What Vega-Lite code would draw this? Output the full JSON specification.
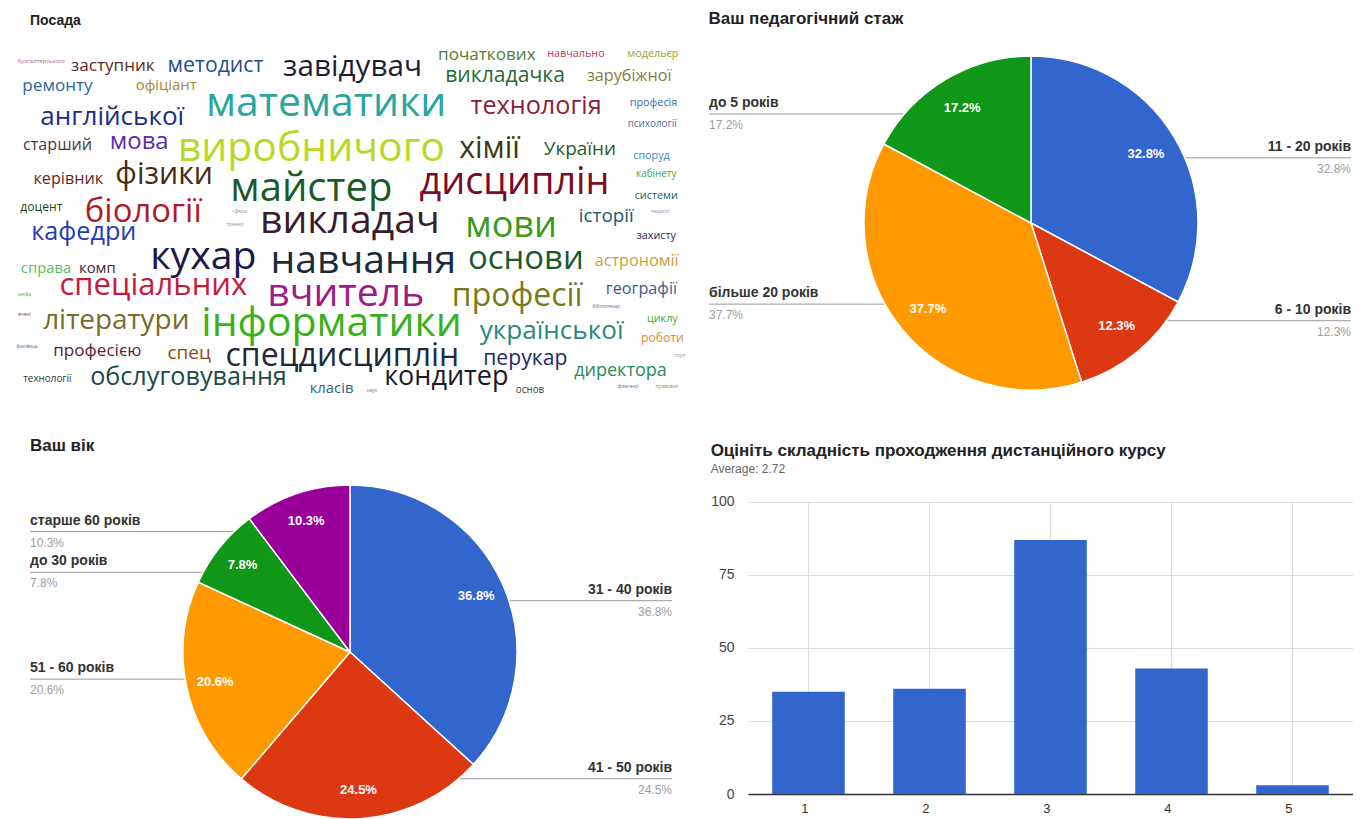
{
  "$schema": "https://vega.github.io/schema/vega-lite/v6.json",
  "background": "white",
  "padding": {"left": 15, "top": 10, "right": 0, "bottom": 0},
  "config": {"view": {"stroke": null}, "font": "Liberation Sans",
    "title": {"anchor": "start", "fontSize": 17, "fontWeight": "bold", "color": "#222", "font": "Liberation Sans"}},
  "resolve": {"scale": {"color": "independent", "size": "independent", "theta": "independent", "x": "independent", "y": "independent"}},
  "spacing": 35,
  "vconcat": [
    {
      "spacing": 18,
      "resolve": {"scale": {"color": "independent", "size": "independent", "theta": "independent", "x": "independent", "y": "independent"}},
      "hconcat": [
        {
          "width": 675, "height": 358,
          "title": {"text": "Посада", "dx": 15, "fontSize": 14, "offset": 16},
          "data": {"values": [
            {"word": "бухгалтерського", "col": 3.9, "row": 4.7, "weight": 1.3},
            {"word": "заступник", "col": 14.5, "row": 6.1, "weight": 3.8},
            {"word": "методист", "col": 29.7, "row": 6.1, "weight": 4.7},
            {"word": "завідувач", "col": 50.0, "row": 6.4, "weight": 6.6},
            {"word": "початкових", "col": 69.9, "row": 3.1, "weight": 3.8},
            {"word": "навчально", "col": 83.1, "row": 2.8, "weight": 2.4},
            {"word": "модельєр", "col": 94.5, "row": 2.8, "weight": 2.4},
            {"word": "викладачка", "col": 72.6, "row": 8.9, "weight": 4.7},
            {"word": "зарубіжної", "col": 91.0, "row": 8.9, "weight": 3.6},
            {"word": "ремонту", "col": 6.3, "row": 11.7, "weight": 3.8},
            {"word": "офіціант", "col": 22.4, "row": 11.7, "weight": 3.3},
            {"word": "математики", "col": 46.1, "row": 16.8, "weight": 9.1},
            {"word": "технологія", "col": 77.2, "row": 17.3, "weight": 5.6},
            {"word": "професія", "col": 94.6, "row": 16.5, "weight": 2.4},
            {"word": "психології", "col": 94.4, "row": 22.3, "weight": 2.2},
            {"word": "англійської", "col": 14.4, "row": 20.4, "weight": 5.8},
            {"word": "старший", "col": 6.3, "row": 28.2, "weight": 3.6},
            {"word": "мова", "col": 18.4, "row": 27.4, "weight": 5.3},
            {"word": "виробничого", "col": 43.9, "row": 29.3, "weight": 9.1},
            {"word": "хімії", "col": 70.3, "row": 29.3, "weight": 6.7},
            {"word": "України", "col": 83.7, "row": 29.3, "weight": 4.2},
            {"word": "споруд", "col": 94.3, "row": 31.3, "weight": 2.4},
            {"word": "кабінету", "col": 95.0, "row": 36.3, "weight": 2.2},
            {"word": "системи", "col": 95.0, "row": 42.5, "weight": 2.4},
            {"word": "керівник", "col": 7.9, "row": 37.7, "weight": 3.6},
            {"word": "фізики", "col": 22.1, "row": 36.6, "weight": 6.7},
            {"word": "майстер", "col": 43.9, "row": 40.5, "weight": 8.9},
            {"word": "дисциплін", "col": 74.0, "row": 38.8, "weight": 8.4},
            {"word": "доцент", "col": 3.9, "row": 45.5, "weight": 2.7},
            {"word": "біології", "col": 19.0, "row": 46.9, "weight": 7.3},
            {"word": "викладач", "col": 49.6, "row": 49.4, "weight": 8.7},
            {"word": "мови", "col": 73.5, "row": 50.8, "weight": 8.0},
            {"word": "історії", "col": 87.6, "row": 48.0, "weight": 4.2},
            {"word": "захисту", "col": 95.0, "row": 53.6, "weight": 2.4},
            {"word": "кафедри", "col": 10.2, "row": 52.5, "weight": 5.6},
            {"word": "справа", "col": 4.6, "row": 62.8, "weight": 3.3},
            {"word": "комп", "col": 12.2, "row": 62.8, "weight": 3.3},
            {"word": "кухар", "col": 27.9, "row": 59.5, "weight": 8.7},
            {"word": "навчання", "col": 51.6, "row": 60.6, "weight": 8.7},
            {"word": "основи", "col": 75.7, "row": 60.1, "weight": 7.3},
            {"word": "астрономії", "col": 92.1, "row": 60.6, "weight": 3.6},
            {"word": "спеціальних", "col": 20.5, "row": 67.6, "weight": 6.9},
            {"word": "вчитель", "col": 49.0, "row": 69.8, "weight": 8.7},
            {"word": "професії", "col": 74.4, "row": 70.4, "weight": 7.1},
            {"word": "географії", "col": 92.8, "row": 68.4, "weight": 3.6},
            {"word": "літератури", "col": 15.0, "row": 77.4, "weight": 6.2},
            {"word": "інформатики", "col": 46.9, "row": 78.2, "weight": 9.1},
            {"word": "української", "col": 79.5, "row": 80.2, "weight": 5.8},
            {"word": "циклу", "col": 95.9, "row": 76.8, "weight": 2.4},
            {"word": "роботи", "col": 95.9, "row": 82.1, "weight": 2.7},
            {"word": "професією", "col": 12.2, "row": 85.8, "weight": 3.8},
            {"word": "спец", "col": 25.8, "row": 86.3, "weight": 4.2},
            {"word": "спецдисциплін", "col": 48.5, "row": 87.2, "weight": 7.1},
            {"word": "перукар", "col": 75.6, "row": 88.0, "weight": 4.7},
            {"word": "директора", "col": 89.7, "row": 91.3, "weight": 4.0},
            {"word": "технології", "col": 4.8, "row": 93.6, "weight": 2.2},
            {"word": "обслуговування", "col": 25.7, "row": 93.0, "weight": 5.6},
            {"word": "кондитер", "col": 63.9, "row": 93.0, "weight": 6.0},
            {"word": "класів", "col": 46.9, "row": 96.4, "weight": 3.3},
            {"word": "основ", "col": 76.3, "row": 96.6, "weight": 2.2},
            {"word": "сфери", "col": 33.3, "row": 46.9, "weight": 1.1},
            {"word": "шефа", "col": 1.4, "row": 70.1, "weight": 1.1},
            {"word": "вчені", "col": 1.4, "row": 75.7, "weight": 1.1},
            {"word": "фахівець", "col": 1.8, "row": 84.6, "weight": 1.1},
            {"word": "бібліотекар", "col": 87.6, "row": 73.5, "weight": 1.1},
            {"word": "педагог", "col": 95.6, "row": 46.9, "weight": 1.1},
            {"word": "наук", "col": 52.9, "row": 96.9, "weight": 1.1},
            {"word": "фізичної", "col": 90.8, "row": 95.8, "weight": 1.1},
            {"word": "правових", "col": 96.6, "row": 95.8, "weight": 1.1},
            {"word": "груп", "col": 98.5, "row": 87.2, "weight": 1.1},
            {"word": "тренер", "col": 32.6, "row": 50.6, "weight": 1.1}
          ]},
          "mark": {"type": "text", "font": "Open Sans", "align": "center", "baseline": "middle", "clip": false},
          "encoding": {
            "x": {"field": "col", "type": "quantitative", "scale": {"domain": [0, 100], "nice": false, "zero": false}, "axis": null},
            "y": {"field": "row", "type": "quantitative", "scale": {"domain": [0, 100], "nice": false, "zero": false, "reverse": true}, "axis": null},
            "text": {"field": "word"},
            "size": {"field": "weight", "type": "quantitative", "scale": {"domain": [0, 10], "range": [0, 45]}, "legend": null},
            "color": {"field": "word", "type": "nominal", "legend": null, "scale": {
              "domain": ["бухгалтерського","заступник","методист","завідувач","початкових","навчально","модельєр","викладачка","зарубіжної","ремонту","офіціант","математики","технологія","професія","психології","англійської","старший","мова","виробничого","хімії","України","споруд","кабінету","системи","керівник","фізики","майстер","дисциплін","доцент","біології","викладач","мови","історії","захисту","кафедри","справа","комп","кухар","навчання","основи","астрономії","спеціальних","вчитель","професії","географії","літератури","інформатики","української","циклу","роботи","професією","спец","спецдисциплін","перукар","директора","технології","обслуговування","кондитер","класів","основ","сфери","шефа","вчені","фахівець","бібліотекар","педагог","наук","фізичної","правових","груп","тренер"],
              "range": ["#b05a8a","#5c2a1e","#23508a","#1e1e32","#5a7a3a","#c0306a","#a0a030","#2a6a30","#8a7a3a","#2a6a9a","#a88a30","#2aa5a0","#8a1e3c","#3a6ab0","#4a6a9a","#1e2e7a","#4a3a3c","#5a2ab0","#b8d828","#3a3a14","#2a5a30","#3a8ac0","#3aaa3a","#2a5a5a","#5a2a1e","#4a2a10","#1a5a28","#7a0a28","#1a4a1a","#b01a28","#3c1a2e","#3a9a1a","#1a5a6a","#1a1a5a","#2a3ab0","#5ac05a","#3a2a3a","#1a1a4a","#1a2a3a","#1a5a28","#c8a040","#c81a3c","#a01a8a","#7a7a1a","#3a5a8a","#7a6a28","#3ab01a","#2a8a7a","#3aaa3a","#e08a2a","#5a1a3a","#8a4a10","#1e2a3a","#1a2a6a","#2a8a5a","#2a3a3a","#1a4a4a","#1a1a2a","#2a6a7a","#3a3a3a","#8a8aaa","#5ab03a","#8a3a4a","#6a6a8a","#6a6a9a","#9a8aba","#6a7a8a","#4a6aaa","#9a9a3a","#8a9aaa","#9a9a9a"]
            }}
          }
        },
        {
          "width": 644, "height": 358,
          "title": {"text": "Ваш педагогічний стаж", "dx": 0, "offset": 16},
          "data": {"values": [
            {"label": "11 - 20 років", "count": 67, "order": 1},
            {"label": "6 - 10 років", "count": 25, "order": 2},
            {"label": "більше 20 років", "count": 77, "order": 3},
            {"label": "до 5 років", "count": 35, "order": 4}
          ]},
          "transform": [
            {"joinaggregate": [{"op": "sum", "field": "count", "as": "total"}]},
            {"window": [{"op": "sum", "field": "count", "as": "cum"}], "sort": [{"field": "order"}], "frame": [null, 0]},
            {"calculate": "datum.count / datum.total", "as": "pct"},
            {"calculate": "(datum.cum - datum.count / 2) / datum.total * 2 * PI", "as": "mid"},
            {"calculate": "127 * sin(datum.mid)", "as": "lx"},
            {"calculate": "127 * cos(datum.mid)", "as": "ly"},
            {"calculate": "datum.lx >= 0 ? 320 : -322", "as": "edge"}
          ],
          "layer": [
            {
              "mark": {"type": "rule", "color": "#9a9a9a", "strokeWidth": 1},
              "encoding": {
                "x": {"field": "lx", "type": "quantitative", "scale": {"domain": [-322, 322], "nice": false, "zero": false}, "axis": null},
                "x2": {"field": "edge"},
                "y": {"field": "ly", "type": "quantitative", "scale": {"domain": [-179, 179], "nice": false, "zero": false}, "axis": null}
              }
            },
            {
              "mark": {"type": "arc", "outerRadius": 167, "stroke": "white", "strokeWidth": 1.5},
              "encoding": {
                "theta": {"field": "count", "type": "quantitative", "stack": true},
                "order": {"field": "order", "type": "quantitative"},
                "color": {"field": "label", "type": "nominal", "legend": null, "scale": {"domain": ["11 - 20 років", "6 - 10 років", "більше 20 років", "до 5 років"], "range": ["#3366cc", "#dc3912", "#ff9900", "#109618"]}}
              }
            },
            {
              "mark": {"type": "text", "radius": 134, "fill": "white", "fontSize": 13, "fontWeight": "bold", "font": "Liberation Sans"},
              "encoding": {
                "theta": {"field": "count", "type": "quantitative", "stack": true},
                "order": {"field": "order", "type": "quantitative"},
                "text": {"field": "pct", "type": "quantitative", "format": ".1%"}
              }
            },
            {
              "transform": [{"filter": "datum.lx >= 0"}],
              "mark": {"type": "text", "align": "right", "baseline": "bottom", "dy": -4, "fontSize": 14, "fontWeight": "bold", "color": "#333"},
              "encoding": {
                "x": {"field": "edge", "type": "quantitative", "scale": {"domain": [-322, 322], "nice": false, "zero": false}, "axis": null},
                "y": {"field": "ly", "type": "quantitative", "scale": {"domain": [-179, 179], "nice": false, "zero": false}, "axis": null},
                "text": {"field": "label"}
              }
            },
            {
              "transform": [{"filter": "datum.lx >= 0"}],
              "mark": {"type": "text", "align": "right", "baseline": "top", "dy": 6, "fontSize": 12, "color": "#9e9e9e"},
              "encoding": {
                "x": {"field": "edge", "type": "quantitative", "scale": {"domain": [-322, 322], "nice": false, "zero": false}, "axis": null},
                "y": {"field": "ly", "type": "quantitative", "scale": {"domain": [-179, 179], "nice": false, "zero": false}, "axis": null},
                "text": {"field": "pct", "type": "quantitative", "format": ".1%"}
              }
            },
            {
              "transform": [{"filter": "datum.lx < 0"}],
              "mark": {"type": "text", "align": "left", "baseline": "bottom", "dy": -4, "fontSize": 14, "fontWeight": "bold", "color": "#333"},
              "encoding": {
                "x": {"field": "edge", "type": "quantitative", "scale": {"domain": [-322, 322], "nice": false, "zero": false}, "axis": null},
                "y": {"field": "ly", "type": "quantitative", "scale": {"domain": [-179, 179], "nice": false, "zero": false}, "axis": null},
                "text": {"field": "label"}
              }
            },
            {
              "transform": [{"filter": "datum.lx < 0"}],
              "mark": {"type": "text", "align": "left", "baseline": "top", "dy": 6, "fontSize": 12, "color": "#9e9e9e"},
              "encoding": {
                "x": {"field": "edge", "type": "quantitative", "scale": {"domain": [-322, 322], "nice": false, "zero": false}, "axis": null},
                "y": {"field": "ly", "type": "quantitative", "scale": {"domain": [-179, 179], "nice": false, "zero": false}, "axis": null},
                "text": {"field": "pct", "type": "quantitative", "format": ".1%"}
              }
            }
          ]
        }
      ]
    },
    {
      "spacing": 25,
      "resolve": {"scale": {"color": "independent", "size": "independent", "theta": "independent", "x": "independent", "y": "independent"}},
      "hconcat": [
        {
          "width": 670, "height": 334,
          "title": {"text": "Ваш вік", "dx": 15, "offset": 27},
          "data": {"values": [
            {"label": "31 - 40 років", "count": 75, "order": 1},
            {"label": "41 - 50 років", "count": 50, "order": 2},
            {"label": "51 - 60 років", "count": 42, "order": 3},
            {"label": "до 30 років", "count": 16, "order": 4},
            {"label": "старше 60 років", "count": 21, "order": 5}
          ]},
          "transform": [
            {"joinaggregate": [{"op": "sum", "field": "count", "as": "total"}]},
            {"window": [{"op": "sum", "field": "count", "as": "cum"}], "sort": [{"field": "order"}], "frame": [null, 0]},
            {"calculate": "datum.count / datum.total", "as": "pct"},
            {"calculate": "(datum.cum - datum.count / 2) / datum.total * 2 * PI", "as": "mid"},
            {"calculate": "127 * sin(datum.mid)", "as": "lx"},
            {"calculate": "127 * cos(datum.mid)", "as": "ly"},
            {"calculate": "datum.lx >= 0 ? 322 : -320", "as": "edge"}
          ],
          "layer": [
            {
              "mark": {"type": "rule", "color": "#9a9a9a", "strokeWidth": 1},
              "encoding": {
                "x": {"field": "lx", "type": "quantitative", "scale": {"domain": [-335, 335], "nice": false, "zero": false}, "axis": null},
                "x2": {"field": "edge"},
                "y": {"field": "ly", "type": "quantitative", "scale": {"domain": [-167, 167], "nice": false, "zero": false}, "axis": null}
              }
            },
            {
              "mark": {"type": "arc", "outerRadius": 167, "stroke": "white", "strokeWidth": 1.5},
              "encoding": {
                "theta": {"field": "count", "type": "quantitative", "stack": true},
                "order": {"field": "order", "type": "quantitative"},
                "color": {"field": "label", "type": "nominal", "legend": null, "scale": {"domain": ["31 - 40 років", "41 - 50 років", "51 - 60 років", "до 30 років", "старше 60 років"], "range": ["#3366cc", "#dc3912", "#ff9900", "#109618", "#990099"]}}
              }
            },
            {
              "mark": {"type": "text", "radius": 138, "fill": "white", "fontSize": 13, "fontWeight": "bold", "font": "Liberation Sans"},
              "encoding": {
                "theta": {"field": "count", "type": "quantitative", "stack": true},
                "order": {"field": "order", "type": "quantitative"},
                "text": {"field": "pct", "type": "quantitative", "format": ".1%"}
              }
            },
            {
              "transform": [{"filter": "datum.lx >= 0"}],
              "mark": {"type": "text", "align": "right", "baseline": "bottom", "dy": -4, "fontSize": 14, "fontWeight": "bold", "color": "#333"},
              "encoding": {
                "x": {"field": "edge", "type": "quantitative", "scale": {"domain": [-335, 335], "nice": false, "zero": false}, "axis": null},
                "y": {"field": "ly", "type": "quantitative", "scale": {"domain": [-167, 167], "nice": false, "zero": false}, "axis": null},
                "text": {"field": "label"}
              }
            },
            {
              "transform": [{"filter": "datum.lx >= 0"}],
              "mark": {"type": "text", "align": "right", "baseline": "top", "dy": 6, "fontSize": 12, "color": "#9e9e9e"},
              "encoding": {
                "x": {"field": "edge", "type": "quantitative", "scale": {"domain": [-335, 335], "nice": false, "zero": false}, "axis": null},
                "y": {"field": "ly", "type": "quantitative", "scale": {"domain": [-167, 167], "nice": false, "zero": false}, "axis": null},
                "text": {"field": "pct", "type": "quantitative", "format": ".1%"}
              }
            },
            {
              "transform": [{"filter": "datum.lx < 0"}],
              "mark": {"type": "text", "align": "left", "baseline": "bottom", "dy": -4, "fontSize": 14, "fontWeight": "bold", "color": "#333"},
              "encoding": {
                "x": {"field": "edge", "type": "quantitative", "scale": {"domain": [-335, 335], "nice": false, "zero": false}, "axis": null},
                "y": {"field": "ly", "type": "quantitative", "scale": {"domain": [-167, 167], "nice": false, "zero": false}, "axis": null},
                "text": {"field": "label"}
              }
            },
            {
              "transform": [{"filter": "datum.lx < 0"}],
              "mark": {"type": "text", "align": "left", "baseline": "top", "dy": 6, "fontSize": 12, "color": "#9e9e9e"},
              "encoding": {
                "x": {"field": "edge", "type": "quantitative", "scale": {"domain": [-335, 335], "nice": false, "zero": false}, "axis": null},
                "y": {"field": "ly", "type": "quantitative", "scale": {"domain": [-167, 167], "nice": false, "zero": false}, "axis": null},
                "text": {"field": "pct", "type": "quantitative", "format": ".1%"}
              }
            }
          ]
        },
        {
          "width": 605, "height": 309,
          "title": {"text": "Оцініть складність проходження дистанційного курсу", "subtitle": "Average: 2.72", "dx": 0, "offset": 9, "subtitleFontSize": 12, "subtitleColor": "#666", "subtitleFont": "Liberation Sans", "subtitlePadding": 4},
          "data": {"values": [
            {"rating": "1", "count": 35},
            {"rating": "2", "count": 36},
            {"rating": "3", "count": 87},
            {"rating": "4", "count": 43},
            {"rating": "5", "count": 3}
          ]},
          "layer": [
            {
              "mark": {"type": "rule", "color": "#dcdcdc", "strokeWidth": 1},
              "encoding": {
                "x": {"field": "rating", "type": "ordinal", "scale": {"paddingInner": 0.4, "paddingOuter": 0.2}},
                "y": {"datum": 0, "type": "quantitative", "scale": {"domain": [0, 105.8], "nice": false}},
                "y2": {"datum": 100}
              }
            },
            {
              "mark": {"type": "bar", "color": "#3366cc"},
              "encoding": {
                "x": {"field": "rating", "type": "ordinal", "scale": {"paddingInner": 0.4, "paddingOuter": 0.2},
                  "axis": {"title": null, "labelAngle": 0, "grid": false, "ticks": false, "domain": true, "domainColor": "#333", "domainWidth": 1.5, "labelFontSize": 13, "labelColor": "#333", "labelPadding": 14}},
                "y": {"field": "count", "type": "quantitative", "scale": {"domain": [0, 105.8], "nice": false},
                  "axis": {"title": null, "values": [0, 25, 50, 75, 100], "grid": true, "gridColor": "#dcdcdc", "ticks": false, "domain": false, "labelFontSize": 14, "labelColor": "#444", "labelPadding": 14}}
              }
            }
          ]
        }
      ]
    }
  ]
}
